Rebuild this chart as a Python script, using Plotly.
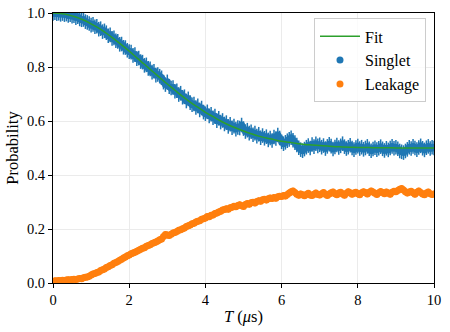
import numpy as np
import plotly.graph_objects as go

# Tiempos de medida (us), muestreo uniforme
time_us = np.linspace(0, 10, 201)

# Probabilidad de singlete
singlet = [
    0.998, 1.001, 0.997, 0.999, 0.995, 0.998, 0.994, 0.996, 0.991, 0.994, 0.988, 0.990, 0.983, 0.986, 0.978, 0.975, 0.976, 0.968, 0.965, 0.961,
    0.955, 0.958, 0.949, 0.951, 0.940, 0.942, 0.931, 0.934, 0.927, 0.916, 0.919, 0.906, 0.908, 0.897, 0.895, 0.884, 0.885, 0.873, 0.872, 0.862,
    0.857, 0.855, 0.843, 0.846, 0.831, 0.833, 0.820, 0.818, 0.806, 0.808, 0.795, 0.793, 0.781, 0.784, 0.770, 0.772, 0.766, 0.760, 0.744, 0.735,
    0.745, 0.727, 0.722, 0.724, 0.710, 0.712, 0.698, 0.703, 0.688, 0.690, 0.674, 0.682, 0.668, 0.660, 0.663, 0.650, 0.656, 0.641, 0.648, 0.633,
    0.627, 0.634, 0.619, 0.625, 0.612, 0.618, 0.601, 0.610, 0.596, 0.602, 0.589, 0.594, 0.580, 0.588, 0.575, 0.581, 0.570, 0.576, 0.574, 0.585,
    0.572, 0.561, 0.566, 0.555, 0.560, 0.549, 0.555, 0.544, 0.551, 0.538, 0.546, 0.536, 0.542, 0.530, 0.537, 0.528, 0.541, 0.535, 0.548, 0.537,
    0.523, 0.516, 0.521, 0.527, 0.532, 0.538, 0.529, 0.520, 0.511, 0.501, 0.494, 0.490, 0.496, 0.503, 0.509, 0.500, 0.513, 0.505, 0.516, 0.508,
    0.512, 0.503, 0.509, 0.498, 0.506, 0.514, 0.507, 0.496, 0.504, 0.511, 0.502, 0.508, 0.516, 0.505, 0.498, 0.503, 0.510, 0.500, 0.494, 0.502,
    0.507, 0.498, 0.503, 0.495, 0.500, 0.506, 0.497, 0.490, 0.496, 0.501, 0.494, 0.499, 0.505, 0.497, 0.491, 0.499, 0.493, 0.500, 0.506, 0.499,
    0.503, 0.497, 0.489, 0.486, 0.483, 0.489, 0.495, 0.503, 0.498, 0.506, 0.500, 0.494, 0.502, 0.508, 0.499, 0.493, 0.501, 0.506, 0.498, 0.503,
    0.500,
]

# Probabilidad de fuga (leakage)
leakage = [
    0.006, 0.008, 0.007, 0.009, 0.008, 0.010, 0.009, 0.011, 0.012, 0.011, 0.013, 0.014, 0.013, 0.015, 0.017, 0.016, 0.019, 0.021, 0.022, 0.025,
    0.030, 0.033, 0.035, 0.039, 0.041, 0.046, 0.049, 0.052, 0.057, 0.060, 0.065, 0.068, 0.073, 0.076, 0.080, 0.084, 0.088, 0.093, 0.096, 0.101,
    0.104, 0.108, 0.111, 0.114, 0.118, 0.121, 0.125, 0.129, 0.131, 0.136, 0.139, 0.142, 0.146, 0.149, 0.152, 0.156, 0.160, 0.163, 0.172, 0.180,
    0.178, 0.176, 0.181, 0.185, 0.187, 0.191, 0.195, 0.197, 0.201, 0.204, 0.209, 0.212, 0.215, 0.219, 0.221, 0.226, 0.229, 0.231, 0.236, 0.238,
    0.241, 0.246, 0.245, 0.251, 0.252, 0.257, 0.259, 0.263, 0.266, 0.270, 0.272, 0.275, 0.273, 0.279, 0.281, 0.284, 0.282, 0.287, 0.290, 0.286,
    0.283, 0.291, 0.294, 0.292, 0.297, 0.299, 0.296, 0.302, 0.305, 0.303, 0.308, 0.310, 0.307, 0.312, 0.315, 0.313, 0.317, 0.314, 0.319, 0.321,
    0.320, 0.324, 0.322, 0.328, 0.333, 0.338, 0.341, 0.335, 0.329, 0.325, 0.330, 0.327, 0.323, 0.328, 0.332, 0.326, 0.324, 0.329, 0.333, 0.328,
    0.326, 0.331, 0.335, 0.329, 0.324, 0.330, 0.334, 0.337, 0.331, 0.327, 0.333, 0.336, 0.330, 0.325, 0.332, 0.338, 0.334, 0.329, 0.333, 0.336,
    0.331, 0.327, 0.334, 0.338, 0.335, 0.330, 0.336, 0.341, 0.337, 0.332, 0.328, 0.334, 0.339, 0.335, 0.331, 0.337, 0.333, 0.329, 0.336, 0.340,
    0.338, 0.343, 0.347, 0.350, 0.344, 0.338, 0.333, 0.337, 0.340, 0.334, 0.329, 0.336, 0.341, 0.335, 0.330, 0.327, 0.333, 0.337, 0.331, 0.328,
    0.330,
]

# Barras de error
singlet_err = 0.027
leakage_err = 0.012

# Curva de ajuste
fit_t = [round(0.2 * i, 1) for i in range(51)]
fit_p = [1.000, 0.998, 0.993, 0.985, 0.974, 0.960, 0.944, 0.925, 0.904, 0.882,
         0.859, 0.834, 0.810, 0.785, 0.761, 0.737, 0.714, 0.691, 0.670, 0.651,
         0.632, 0.616, 0.600, 0.586, 0.574, 0.563, 0.553, 0.544, 0.537, 0.531,
         0.525, 0.521, 0.517, 0.513, 0.511, 0.509, 0.507, 0.505, 0.504, 0.503,
         0.502, 0.502, 0.501, 0.501, 0.501, 0.500, 0.500, 0.500, 0.500, 0.500, 0.500]

SERIF = "Liberation Serif, Times New Roman, serif"

fig = go.Figure()

fig.add_trace(go.Scatter(
    x=time_us, y=singlet, mode="markers", name="Singlet", legendrank=2,
    marker=dict(color="#1f77b4", size=7),
    error_y=dict(type="constant", value=singlet_err, color="#1f77b4", thickness=1.5, width=0),
))
fig.add_trace(go.Scatter(
    x=time_us, y=leakage, mode="markers", name="Leakage", legendrank=3,
    marker=dict(color="#ff7f0e", size=7),
    error_y=dict(type="constant", value=leakage_err, color="#ff7f0e", thickness=1.5, width=0),
))
fig.add_trace(go.Scatter(
    x=fit_t, y=fit_p, mode="lines", name="Fit", legendrank=1,
    line=dict(color="#2ca02c", width=1.5, shape="spline"),
))

axis_style = dict(
    showline=True, linecolor="black", linewidth=1, mirror=True,
    ticks="outside", ticklen=4, tickcolor="black",
    showgrid=True, gridcolor="#ebebeb", gridwidth=1, zeroline=False,
    tickfont=dict(family=SERIF, size=14.5, color="black"),
    automargin=False, ticklabeloverflow="allow",
)

fig.update_xaxes(range=[0, 10], dtick=2,
                 title=dict(text="<i>T</i> (<i>μ</i>s)", font=dict(family=SERIF, size=16.5), standoff=3),
                 **axis_style)
fig.update_yaxes(range=[0, 1], dtick=0.2, tickformat=".1f",
                 title=dict(text="Probability", font=dict(family=SERIF, size=16.5), standoff=4),
                 **axis_style)

fig.update_layout(
    width=450, height=332,
    margin=dict(l=53, r=16, t=13, b=49),
    plot_bgcolor="white", paper_bgcolor="white",
    font=dict(family=SERIF, color="black", size=14.5),
    legend=dict(x=0.979, y=0.98, xanchor="right", yanchor="top",
                bgcolor="rgba(255,255,255,0.8)", bordercolor="#cccccc", borderwidth=1,
                font=dict(family=SERIF, size=16), itemwidth=40),
)

# quitar el margen por defecto del body para que la figura empiece en (0, 0)
fig.write_html("out.html", config={"displayModeBar": False},
               post_script="document.body.style.margin = '0';")
